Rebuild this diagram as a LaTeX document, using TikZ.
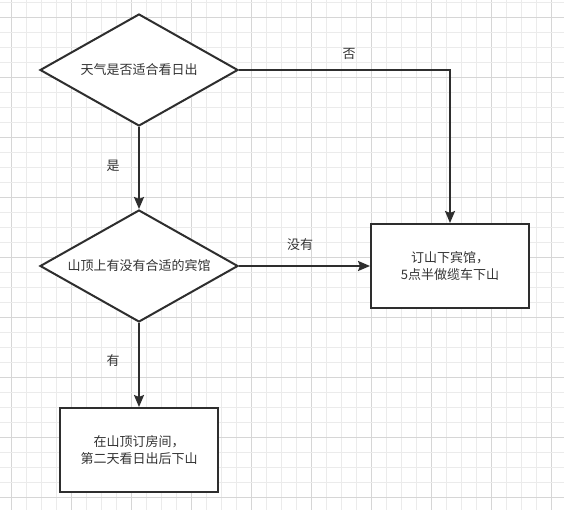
\documentclass[tikz,border=0pt]{standalone}
\usepackage{fontspec}
\setmainfont{Noto Sans CJK SC}
\usetikzlibrary{shapes.geometric,arrows.meta}
\definecolor{gridlight}{HTML}{EBEBEB}
\definecolor{griddark}{HTML}{D6D6D6}
\definecolor{ink}{HTML}{2E2E2E}
\definecolor{txt}{HTML}{333333}
\tikzset{
  decision/.style={shape=diamond, draw=ink, fill=white, line width=2pt, inner sep=0pt, aspect=1.77, minimum width=198pt, minimum height=112pt, font=\fontsize{13pt}{17pt}\selectfont, text=txt},
  action/.style={shape=rectangle, draw=ink, fill=white, line width=2pt, minimum width=158pt, minimum height=84pt, align=center, font=\fontsize{13pt}{17pt}\selectfont, text=txt},
  conn/.style={draw=ink, line width=2pt, -{Stealth[length=12pt,width=10pt,inset=2pt]}},
  lbl/.style={font=\fontsize{13pt}{17pt}\selectfont, text=txt, inner sep=0pt}
}
\begin{document}
\begin{tikzpicture}[x=1pt,y=-1pt]
\useasboundingbox (0,0) rectangle (564,510);
\fill[white] (0,0) rectangle (564,510);
\begin{scope}
\clip (0,0) rectangle (564,510);
\foreach \i in {0,...,37} {
  \pgfmathtruncatemacro{\m}{mod(\i,4)}
  \ifnum\m=0
    \draw[griddark, line width=1pt] ({11.5+15*\i},0) -- ({11.5+15*\i},510);
  \else
    \draw[gridlight, line width=1pt] ({11.5+15*\i},0) -- ({11.5+15*\i},510);
  \fi
}
\foreach \j in {0,...,34} {
  \pgfmathtruncatemacro{\m}{mod(\j,4)}
  \ifnum\m=1
    \draw[griddark, line width=1pt] (0,{2.5+15*\j}) -- (564,{2.5+15*\j});
  \else
    \draw[gridlight, line width=1pt] (0,{2.5+15*\j}) -- (564,{2.5+15*\j});
  \fi
}
\end{scope}

\node[decision] (d1) at (139,70) {天气是否适合看日出};
\node[decision] (d2) at (139,266) {山顶上有没有合适的宾馆};
\node[action] (r1) at (450,266) {订山下宾馆，\\5点半做缆车下山};
\node[action] (r2) at (139,450) {在山顶订房间，\\第二天看日出后下山};

\draw[conn] (d1.south) -- (d2.north);
\draw[conn] (d1.east) -| (r1.north);
\draw[conn] (d2.east) -- (r1.west);
\draw[conn] (d2.south) -- (r2.north);

\node[lbl] (l1) at (349,54) {否};
\node[lbl] (l2) at (113,166) {是};
\node[lbl] (l3) at (300,245) {没有};
\node[lbl] (l4) at (113,361) {有};
\end{tikzpicture}
\end{document}
